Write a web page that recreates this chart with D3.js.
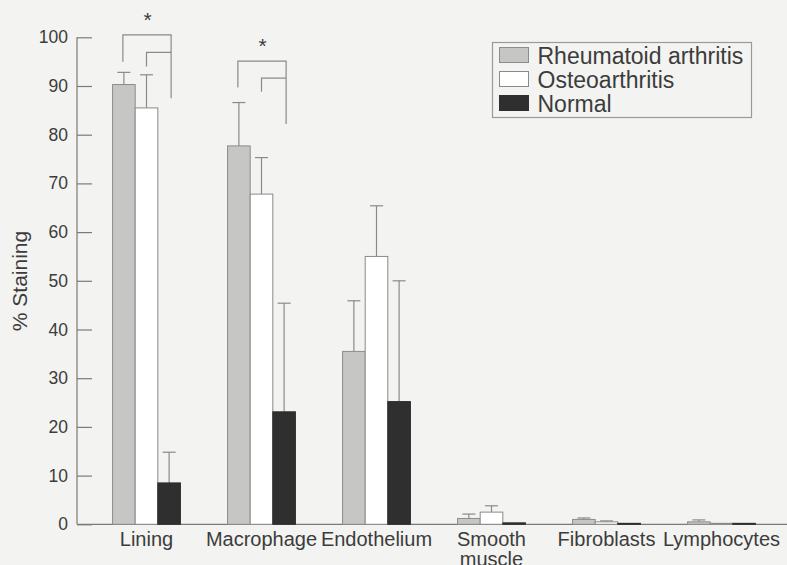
<!DOCTYPE html>
<html>
<head>
<meta charset="utf-8">
<script src="https://cdn.jsdelivr.net/npm/d3@7"></script>
<style>
  body { margin: 0; background: #f3f3f1; }
  svg { display: block; }
  text { font-family: "Liberation Sans", Arial, sans-serif; fill: #3c3c3c; }
</style>
</head>
<body>
<div class="chart"></div>
<script>
// data
const categories = ['Lining', 'Macrophage', 'Endothelium', 'Smooth muscle', 'Fibroblasts', 'Lymphocytes'];
const seriesNames = ['Rheumatoid arthritis', 'Osteoarthritis', 'Normal'];
const raMeans = [90.3, 77.7, 35.5, 1.2, 1.0, 0.5];
const raErrors = [92.8, 86.6, 45.9, 2.1, 1.3, 0.9];
const oaMeans = [85.5, 67.8, 55.0, 2.5, 0.5, 0.2];
const oaErrors = [92.3, 75.3, 65.4, 3.8, 0.7, 0.2];
const normalMeans = [8.5, 23.1, 25.2, 0.3, 0.2, 0.2];
const normalErrors = [14.8, 45.4, 50.0, 0.3, 0.2, 0.2];
const yTicks = [0, 10, 20, 30, 40, 50, 60, 70, 80, 90, 100];

// significance brackets (values in % units)
const brackets = [
  { cat: 'Lining', outerTop: 100.5, outerLeft: 95, right: 87.5, innerTop: 96.9, innerLeft: 94, star: 104.4 },
  { cat: 'Macrophage', outerTop: 95.1, outerLeft: 89.7, right: 82.2, innerTop: 91.6, innerLeft: 88.8, star: 99 }
];

const width = 787;
const height = 565;

const svg = d3.select('.chart')
  .append('svg')
  .attr('width', width)
  .attr('height', height);

const xScale = d3.scaleBand().domain(categories).range([89, 779]).paddingInner(0.41).paddingOuter(0.205);
const x1 = d3.scaleBand().domain(seriesNames).range([0, xScale.bandwidth()]);
const yScale = d3.scaleLinear().domain([0, 100]).range([524.3, 37.3]);

const fills = { 'Rheumatoid arthritis': '#c6c6c4', 'Osteoarthritis': '#ffffff', 'Normal': '#2f2f2f' };
const strokes = { 'Rheumatoid arthritis': '#8c8c8c', 'Osteoarthritis': '#8a8a8a', 'Normal': '#2f2f2f' };

const rows = categories.map((c, i) => ({
  cat: c,
  values: [
    { s: seriesNames[0], v: raMeans[i], e: raErrors[i] },
    { s: seriesNames[1], v: oaMeans[i], e: oaErrors[i] },
    { s: seriesNames[2], v: normalMeans[i], e: normalErrors[i] }
  ]
}));

// y axis, ticks point inward
const yAxis = d3.axisRight(yScale).tickValues(yTicks).tickSize(15).tickFormat('');
const yAxisGroup = svg.append('g').attr('transform', 'translate(77,0)').call(yAxis);
yAxisGroup.select('.domain').remove();
yAxisGroup.selectAll('line').attr('stroke', '#7a7a7a').attr('stroke-width', 1.2);
svg.append('line')
  .attr('x1', 77).attr('x2', 77)
  .attr('y1', yScale(100)).attr('y2', yScale(0))
  .attr('stroke', '#7a7a7a').attr('stroke-width', 1.2);

svg.selectAll('.ylab')
  .data(yTicks)
  .join('text')
  .attr('class', 'ylab')
  .attr('x', 68)
  .attr('y', (d) => yScale(d) + 6)
  .attr('text-anchor', 'end')
  .style('font-size', '17.5px')
  .text((d) => d);

svg.append('text')
  .attr('transform', 'translate(27,281) rotate(-90)')
  .attr('text-anchor', 'middle')
  .style('font-size', '21px')
  .text('% Staining');

// x axis line
svg.append('line')
  .attr('x1', 77).attr('x2', 787)
  .attr('y1', yScale(0)).attr('y2', yScale(0))
  .attr('stroke', '#7a7a7a').attr('stroke-width', 1.2);

// bars
const groups = svg.selectAll('.grp')
  .data(rows)
  .join('g')
  .attr('class', 'grp')
  .attr('transform', (d) => 'translate(' + xScale(d.cat) + ',0)');

// error bars (upper only), drawn under the bars
groups.selectAll('.err')
  .data((d) => d.values)
  .join('g')
  .attr('class', 'err')
  .each(function (d) {
    const cx = x1(d.s) + x1.bandwidth() / 2;
    const g = d3.select(this);
    if (d.e <= d.v) return;
    g.append('line')
      .attr('x1', cx).attr('x2', cx)
      .attr('y1', yScale(d.v)).attr('y2', yScale(d.e))
      .attr('stroke', '#8a8a8a').attr('stroke-width', 1.2);
    g.append('line')
      .attr('x1', cx - 6.5).attr('x2', cx + 6.5)
      .attr('y1', yScale(d.e)).attr('y2', yScale(d.e))
      .attr('stroke', '#8a8a8a').attr('stroke-width', 1.2);
  });

groups.selectAll('rect')
  .data((d) => d.values)
  .join('rect')
  .attr('x', (d) => x1(d.s))
  .attr('y', (d) => yScale(d.v))
  .attr('width', x1.bandwidth())
  .attr('height', (d) => yScale(0) - yScale(d.v))
  .attr('fill', (d) => fills[d.s])
  .attr('stroke', (d) => strokes[d.s])
  .attr('stroke-width', 1);

// category labels
svg.selectAll('.xlab')
  .data(categories)
  .join('text')
  .attr('class', 'xlab')
  .attr('x', (d) => xScale(d) + xScale.bandwidth() / 2)
  .attr('y', 546)
  .attr('text-anchor', 'middle')
  .style('font-size', '20px')
  .each(function (d) {
    const words = d === 'Smooth muscle' ? ['Smooth', 'muscle'] : [d];
    d3.select(this).selectAll('tspan')
      .data(words)
      .join('tspan')
      .attr('x', xScale(d) + xScale.bandwidth() / 2)
      .attr('dy', (w, i) => (i === 0 ? 0 : 20))
      .text((w) => w);
  });

// significance brackets
brackets.forEach((b) => {
  const xa = xScale(b.cat) + x1(seriesNames[0]) + x1.bandwidth() / 2 - 1;
  const xb = xScale(b.cat) + x1(seriesNames[1]) + x1.bandwidth() / 2;
  const xc = xScale(b.cat) + x1(seriesNames[2]) + x1.bandwidth() / 2 + 2;
  const path = d3.path();
  path.moveTo(xa, yScale(b.outerLeft));
  path.lineTo(xa, yScale(b.outerTop));
  path.lineTo(xc, yScale(b.outerTop));
  path.lineTo(xc, yScale(b.right));
  path.moveTo(xb, yScale(b.innerLeft));
  path.lineTo(xb, yScale(b.innerTop));
  path.lineTo(xc, yScale(b.innerTop));
  svg.append('path')
    .attr('d', path.toString())
    .attr('fill', 'none')
    .attr('stroke', '#8a8a8a')
    .attr('stroke-width', 1.2);
  svg.append('text')
    .attr('x', xb + 1)
    .attr('y', yScale(b.star) + 11)
    .attr('text-anchor', 'middle')
    .style('font-size', '21px')
    .text('*');
});

// legend
const legend = svg.append('g').attr('transform', 'translate(492.5,42.5)');
legend.append('rect')
  .attr('width', 259).attr('height', 75)
  .attr('fill', 'none')
  .attr('stroke', '#9a9a9a').attr('stroke-width', 1.2);
const items = legend.selectAll('.item')
  .data(seriesNames)
  .join('g')
  .attr('class', 'item')
  .attr('transform', (d, i) => 'translate(7,' + (5 + i * 24) + ')');
items.append('rect')
  .attr('width', 29).attr('height', 15)
  .attr('fill', (d) => fills[d])
  .attr('stroke', (d) => strokes[d])
  .attr('stroke-width', 1);
items.append('text')
  .attr('x', 38)
  .attr('y', 16)
  .style('font-size', '23px')
  .text((d) => d);
</script>
</body>
</html>
